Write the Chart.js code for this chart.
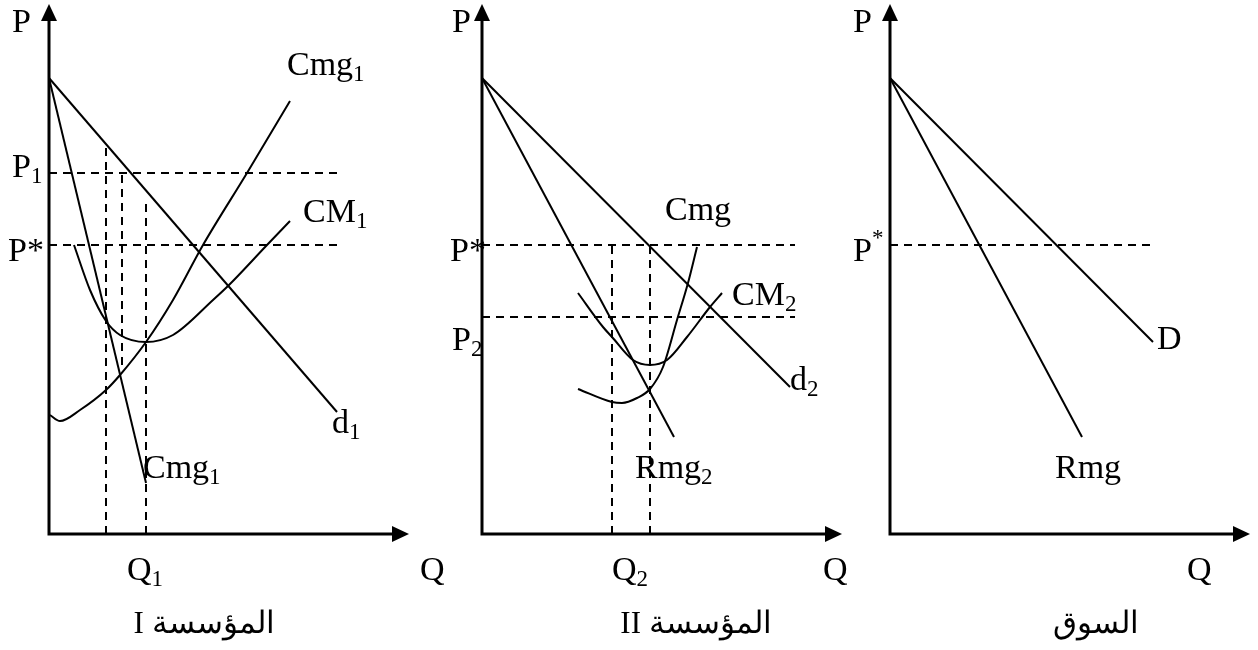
<!DOCTYPE html>
<html>
<head>
<meta charset="utf-8">
<script src="https://cdn.jsdelivr.net/npm/chart.js@4"></script>
<style>
  body { margin: 0; background: #fff; overflow: hidden; }
  #wrap { position: relative; width: 1258px; height: 650px; }
  canvas { position: absolute; top: 0; }
</style>
</head>
<body>
<div id="wrap">
  <canvas id="firm1" width="460" height="650" style="left:0px"></canvas>
  <canvas id="firm2" width="420" height="650" style="left:433px"></canvas>
  <canvas id="market" width="417" height="650" style="left:841px"></canvas>
</div>
<script>
// axis ranges (Q horizontal, P vertical), same for the three panels
const qMax = 7.2;
const pMax = 10.6;

// price levels
const pStar = 5.78;
const p1 = 7.22;
const p2 = 4.34;

// firm I : demand d1, marginal revenue, marginal cost, average cost
const firm1Demand = [[0, 9.12], [5.76, 2.44]];
const firm1Rmg = [[0, 9.12], [1.94, 1.02]];
const firm1Cmg = [[0.02, 2.38], [0.22, 2.26], [0.62, 2.48], [1.14, 2.88], [1.42, 3.18], [1.94, 3.84],
                  [2.48, 4.68], [3.08, 5.78], [3.96, 7.22], [4.82, 8.66]];
const firm1CM = [[0.5, 5.78], [0.82, 4.88], [1.14, 4.26], [1.42, 3.98], [1.94, 3.84], [2.48, 3.98],
                 [3.28, 4.68], [3.6, 4.98], [4.36, 5.78], [4.82, 6.26]];
// firm I dashed guides: [q, pFrom, pTo]
const firm1Verticals = [[1.14, 0, 7.72], [1.46, 3.38, 7.22], [1.94, 0, 6.62]];
const firm1GuideEnd = 5.76;

// firm II
const firm2Demand = [[0, 9.12], [6.16, 2.94]];
const firm2Rmg = [[0, 9.12], [3.84, 1.94]];
const firm2Cmg = [[1.92, 2.9], [2.6, 2.64], [2.8, 2.62], [3.1, 2.72], [3.36, 2.9], [3.62, 3.34],
                  [3.9, 4.28], [4.12, 5.02], [4.3, 5.74]];
const firm2CM = [[1.92, 4.82], [2.42, 4.14], [2.6, 3.94], [3.02, 3.48], [3.36, 3.38], [3.7, 3.48],
                 [4.1, 3.94], [4.56, 4.54], [4.8, 4.82]];
const firm2Verticals = [[2.6, 0, 5.78], [3.36, 0, 5.78]];
const firm2GuideEnd = 6.26;

// market
const marketDemand = [[0, 9.12], [5.26, 3.84]];
const marketRmg = [[0, 9.12], [3.84, 1.94]];
const marketGuideEnd = 5.2;

const pts = arr => arr.map(([x, y]) => ({ x, y }));
const serif = '"Liberation Serif", "DejaVu Serif", serif';

function solid(data, curved) {
    return {
        data: pts(data), showLine: true, borderColor: '#000', borderWidth: 2,
        tension: curved ? 0.4 : 0, cubicInterpolationMode: curved ? 'monotone' : 'default',
        pointRadius: 0, clip: false
    };
}
function dashed(data) {
    return {
        data: pts(data), showLine: true, borderColor: '#000', borderWidth: 2,
        borderDash: [8, 6], tension: 0, pointRadius: 0, clip: false
    };
}

// axes with arrows and text labels
const decor = {
    id: 'decor',
    afterDatasetsDraw(chart, args, opts) {
        const { ctx, chartArea: a, scales } = chart;
        ctx.save();
        ctx.strokeStyle = '#000';
        ctx.fillStyle = '#000';
        ctx.lineWidth = 3;
        ctx.beginPath();
        ctx.moveTo(a.left, a.top + 14);
        ctx.lineTo(a.left, a.bottom);
        ctx.lineTo(a.right - 14, a.bottom);
        ctx.stroke();
        ctx.beginPath();
        ctx.moveTo(a.left, a.top);
        ctx.lineTo(a.left - 8, a.top + 17);
        ctx.lineTo(a.left + 8, a.top + 17);
        ctx.closePath();
        ctx.fill();
        ctx.beginPath();
        ctx.moveTo(a.right, a.bottom);
        ctx.lineTo(a.right - 17, a.bottom - 8);
        ctx.lineTo(a.right - 17, a.bottom + 8);
        ctx.closePath();
        ctx.fill();

        ctx.textBaseline = 'alphabetic';
        for (const lab of opts.labels) {
            const x = scales.x.getPixelForValue(lab.q);
            const y = scales.y.getPixelForValue(lab.p);
            ctx.textAlign = 'left';
            ctx.direction = 'ltr';
            ctx.font = '34px ' + serif;
            ctx.fillText(lab.text, x, y);
            const w = ctx.measureText(lab.text).width;
            if (lab.sub) {
                ctx.font = '23px ' + serif;
                ctx.fillText(lab.sub, x + w, y + 6);
            }
            if (lab.sup) {
                ctx.font = '23px ' + serif;
                ctx.fillText(lab.sup, x + w, y - 16);
            }
        }
        ctx.font = '31px ' + serif;
        ctx.textAlign = 'center';
        ctx.direction = 'rtl';
        ctx.fillText(opts.title.text, scales.x.getPixelForValue(opts.title.q), scales.y.getPixelForValue(opts.title.p));
        ctx.restore();
    }
};

function makePanel(id, datasets, labels, title, rightPad) {
    new Chart(document.getElementById(id), {
        type: 'scatter',
        data: { datasets },
        options: {
            responsive: false,
            animation: false,
            devicePixelRatio: 1,
            layout: { padding: { left: 49, top: 4, right: rightPad, bottom: 116 } },
            scales: {
                x: { type: 'linear', min: 0, max: qMax, display: false },
                y: { type: 'linear', min: 0, max: pMax, display: false }
            },
            plugins: {
                legend: { display: false },
                tooltip: { enabled: false },
                decor: { labels, title }
            }
        },
        plugins: [decor]
    });
}

// Panel : firm I
makePanel('firm1', [
    dashed([[0, p1], [firm1GuideEnd, p1]]),
    dashed([[0, pStar], [firm1GuideEnd, pStar]]),
    ...firm1Verticals.map(([q, a, b]) => dashed([[q, a], [q, b]])),
    solid(firm1Demand), solid(firm1Rmg),
    solid(firm1Cmg, true), solid(firm1CM, true)
], [
    { text: 'P', q: -0.74, p: 10.04 },
    { text: 'P', sub: '1', q: -0.74, p: 7.14 },
    { text: 'P*', q: -0.82, p: 5.46 },
    { text: 'Cmg', sub: '1', q: 4.76, p: 9.18 },
    { text: 'CM', sub: '1', q: 5.08, p: 6.24 },
    { text: 'd', sub: '1', q: 5.66, p: 2.02 },
    { text: 'Cmg', sub: '1', q: 1.88, p: 1.12 },
    { text: 'Q', sub: '1', q: 1.56, p: -0.92 },
    { text: 'Q', q: 7.42, p: -0.92 }
], { text: 'المؤسسة I', q: 3.1, p: -1.98 }, 51);

// Panel : firm II
makePanel('firm2', [
    dashed([[0, pStar], [firm2GuideEnd, pStar]]),
    dashed([[0, p2], [firm2GuideEnd, p2]]),
    ...firm2Verticals.map(([q, a, b]) => dashed([[q, a], [q, b]])),
    solid(firm2Demand), solid(firm2Rmg),
    solid(firm2Cmg, true), solid(firm2CM, true)
], [
    { text: 'P', q: -0.6, p: 10.04 },
    { text: 'P*', q: -0.64, p: 5.46 },
    { text: 'P', sub: '2', q: -0.6, p: 3.68 },
    { text: 'Cmg', q: 3.66, p: 6.28 },
    { text: 'CM', sub: '2', q: 5.0, p: 4.58 },
    { text: 'd', sub: '2', q: 6.16, p: 2.88 },
    { text: 'Rmg', sub: '2', q: 3.06, p: 1.12 },
    { text: 'Q', sub: '2', q: 2.6, p: -0.92 },
    { text: 'Q', q: 6.82, p: -0.92 }
], { text: 'المؤسسة II', q: 4.28, p: -1.98 }, 11);

// Panel : market
makePanel('market', [
    dashed([[0, pStar], [marketGuideEnd, pStar]]),
    solid(marketDemand), solid(marketRmg)
], [
    { text: 'P', q: -0.74, p: 10.04 },
    { text: 'P', sup: '*', q: -0.74, p: 5.46 },
    { text: 'D', q: 5.34, p: 3.7 },
    { text: 'Rmg', q: 3.3, p: 1.12 },
    { text: 'Q', q: 5.94, p: -0.92 }
], { text: 'السوق', q: 4.12, p: -1.98 }, 8);
</script>
</body>
</html>
